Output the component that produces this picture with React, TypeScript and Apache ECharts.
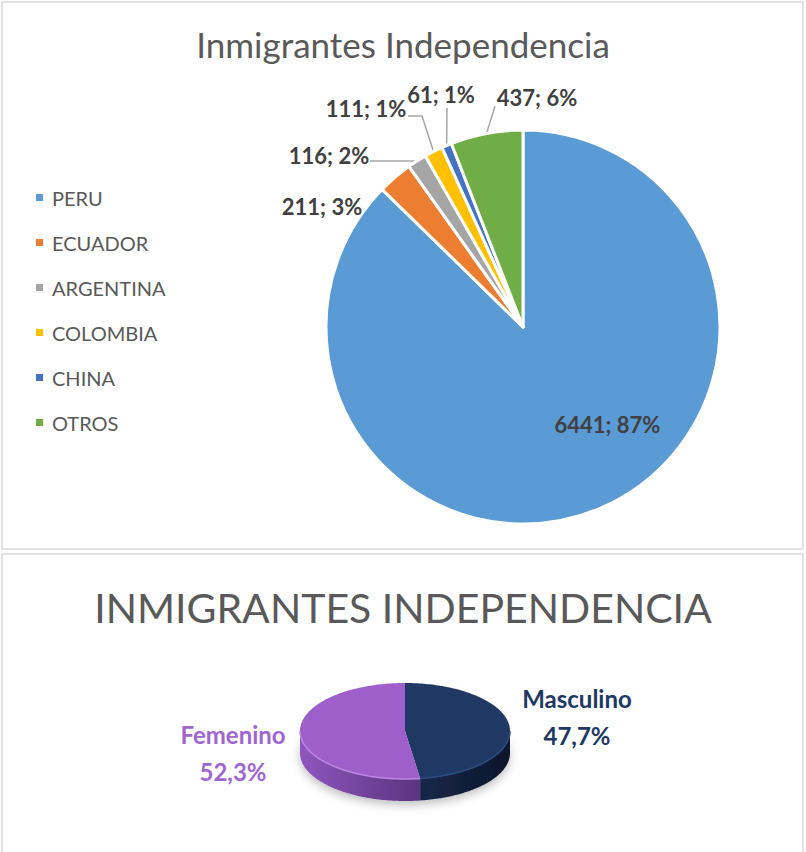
import React, { useEffect, useRef } from "react";
import * as echarts from "echarts";

const countries = ["PERU", "ECUADOR", "ARGENTINA", "COLOMBIA", "CHINA", "OTROS"];
const countryValues = [6441, 211, 116, 111, 61, 437];
const countryPct = [87, 3, 2, 1, 1, 6];
const countryColors = ["#5B9BD5", "#ED7D31", "#A5A5A5", "#FFC000", "#4472C4", "#70AD47"];

const genders = ["Masculino", "Femenino"];
const genderPct = [47.7, 52.3];
const genderTop = ["#1F3864", "#9E5FCB"];
const genderRim = ["#2E4C84", "#B88AE0"];
const genderSide = [
  ["#16284A", "#0C1629"],
  ["#8E56BE", "#5A347E"],
];
const genderText = ["#203864", "#A066D0"];

const FONT = "Lato, 'Open Sans', sans-serif";

// label placement (layout only)
const PIE_C = [523, 327];
const PIE_R = 197;
const labelPos: Record<number, { x: number; y: number; elbow?: number[][] }> = {
  1: { x: 322, y: 206 },
  2: { x: 329, y: 155, elbow: [[417, 161], [370, 161]] },
  3: { x: 366, y: 108, elbow: [[422, 116], [408, 116]] },
  4: { x: 441, y: 94, elbow: [[447, 108]] },
  5: { x: 537, y: 97, elbow: [[495, 106]] },
};

export default function App() {
  const ref = useRef<HTMLDivElement>(null);
  useEffect(() => {
    document.body.style.margin = "0";
    const chart = echarts.init(ref.current!, null, { renderer: "svg" });
    const total = countryValues.reduce((a, b) => a + b, 0);
    const gTotal = genderPct.reduce((a, b) => a + b, 0);

    const edgePoint = (i: number) => {
      let before = 0;
      for (let k = 0; k < i; k++) before += countryValues[k];
      const a = ((before + countryValues[i] / 2) / total) * Math.PI * 2;
      return [PIE_C[0] + PIE_R * Math.sin(a), PIE_C[1] - PIE_R * Math.cos(a)];
    };

    const option: any = {
      animation: false,
      title: [
        {
          text: "Inmigrantes Independencia",
          left: "center",
          top: 21,
          textStyle: { fontFamily: FONT, fontSize: 35, fontWeight: "normal", color: "#595959" },
        },
        {
          text: "INMIGRANTES INDEPENDENCIA",
          left: "center",
          top: 582,
          textStyle: { fontFamily: FONT, fontSize: 41, fontWeight: "normal", color: "#595959" },
        },
      ],
      legend: {
        orient: "vertical",
        left: 34,
        top: 187,
        padding: 0,
        itemWidth: 9,
        itemHeight: 9,
        itemGap: 24,
        icon: "rect",
        selectedMode: false,
        data: countries,
        textStyle: { fontFamily: FONT, fontSize: 20, lineHeight: 21, color: "#595959", padding: [0, 0, 0, 3] },
      },
      graphic: [
        { type: "rect", shape: { x: 2, y: 2, width: 801, height: 547 }, style: { fill: "none", stroke: "#D9D9D9", lineWidth: 1.5 }, silent: true },
        { type: "rect", shape: { x: 2, y: 554, width: 801, height: 310 }, style: { fill: "none", stroke: "#D9D9D9", lineWidth: 1.5 }, silent: true },
      ],
      series: [
        {
          type: "pie",
          center: PIE_C,
          radius: PIE_R,
          startAngle: 90,
          clockwise: true,
          silent: true,
          emphasis: { disabled: true },
          avoidLabelOverlap: false,
          itemStyle: { borderColor: "#fff", borderWidth: 3 },
          label: {
            show: true,
            position: "outside",
            fontFamily: FONT,
            fontSize: 22,
            fontWeight: "bold",
            color: "#404040",
            formatter: (p: any) => `${p.value}; ${countryPct[p.dataIndex]}%`,
          },
          labelLine: { show: true, length: 10, length2: 10, lineStyle: { color: "#A6A6A6", width: 1.5 } },
          labelLayout: (p: any) => {
            const lp = labelPos[p.dataIndex];
            if (!lp) return {};
            const res: any = { x: lp.x, y: lp.y, align: "center", verticalAlign: "middle" };
            if (lp.elbow) {
              res.labelLinePoints = [edgePoint(p.dataIndex), ...lp.elbow];
            }
            return res;
          },
          data: countries.map((c, i) => ({
            name: c,
            value: countryValues[i],
            itemStyle: { color: countryColors[i] },
            ...(i === 0
              ? { label: { position: "inside", offset: [45, 4] }, labelLine: { show: false } }
              : i === 1
              ? { labelLine: { show: false } }
              : {}),
          })),
        },
        {
          type: "custom",
          coordinateSystem: "none",
          silent: true,
          data: genders.map((g, i) => ({ name: g, value: genderPct[i] })),
          renderItem: (params: any, api: any) => {
            const i = params.dataIndex;
            const v = api.value(0);
            let before = 0;
            for (let k = 0; k < i; k++) before += genderPct[k];
            const a0 = (before / gTotal) * Math.PI * 2;
            const a1 = ((before + v) / gTotal) * Math.PI * 2;
            const cx = 405, cy = 731, rx = 105, ry = 48, depth = 22;
            const pt = (a: number, dy: number) => [cx + rx * Math.sin(a), cy - ry * Math.cos(a) + dy];
            const arc = (s: number, e: number, dy: number) => {
              const n = Math.max(2, Math.ceil((e - s) / 0.02));
              const out: number[][] = [];
              for (let j = 0; j <= n; j++) out.push(pt(s + ((e - s) * j) / n, dy));
              return out;
            };
            const children: any[] = [];
            const s = Math.max(a0, Math.PI / 2);
            const e = Math.min(a1, Math.PI * 1.5);
            if (s < e) {
              const top = arc(s, e, 0);
              const bottom = arc(s, e, depth).reverse();
              children.push({
                type: "polygon",
                z2: 1,
                shape: { points: [...top, ...bottom] },
                style: {
                  fill: new echarts.graphic.LinearGradient(0, 0, 1, 0, [
                    { offset: 0, color: genderSide[i][0] },
                    { offset: 1, color: genderSide[i][1] },
                  ]),
                  shadowBlur: 10,
                  shadowOffsetY: 4,
                  shadowColor: "rgba(0,0,0,0.25)",
                },
              });
              children.push({
                type: "polyline",
                z2: 11,
                shape: { points: top },
                style: { stroke: genderRim[i], lineWidth: 1.5, fill: "none" },
              });
            }
            children.push({
              type: "polygon",
              z2: 10,
              shape: { points: [[cx, cy], ...arc(a0, a1, 0)] },
              style: { fill: genderTop[i] },
            });
            const mid = (a0 + a1) / 2;
            const lx = cx + Math.sign(Math.sin(mid)) * 172;
            children.push({
              type: "text",
              z2: 20,
              x: lx,
              y: i === 0 ? 717 : 753,
              style: {
                text: `${genders[i]}\n${String(v).replace(".", ",")}%`,
                fontFamily: FONT,
                fontSize: 24,
                fontWeight: "bold",
                lineHeight: 37,
                fill: genderText[i],
                align: "center",
                verticalAlign: "middle",
              },
            });
            return { type: "group", children };
          },
        },
      ],
    };
    chart.setOption(option);
    return () => chart.dispose();
  }, []);
  return <div ref={ref} style={{ width: 806, height: 852 }} />;
}
